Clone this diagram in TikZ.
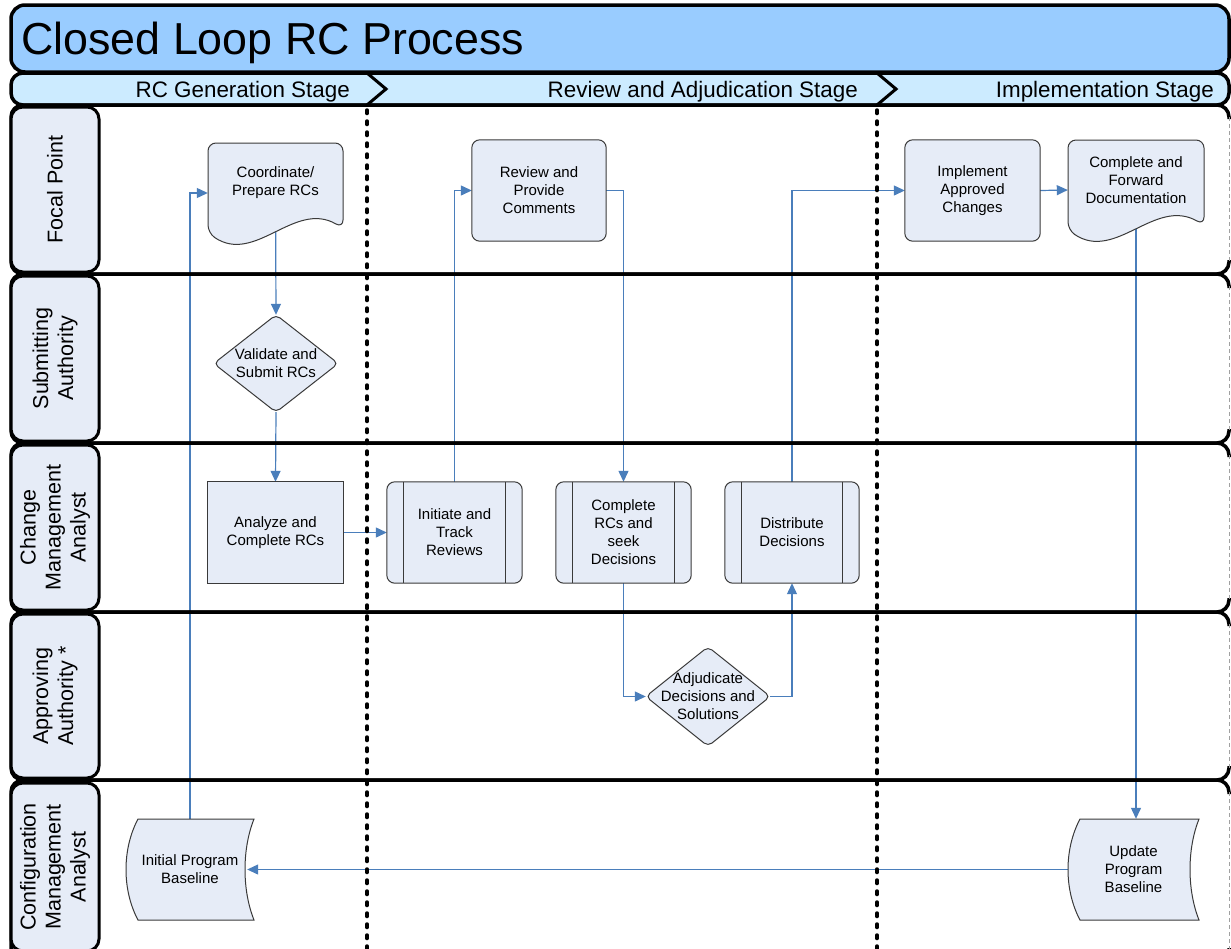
\documentclass[tikz,border=0pt]{standalone}
\usepackage{fontspec}
\setmainfont{Liberation Sans}
\usetikzlibrary{arrows.meta}

\definecolor{titlefill}{HTML}{99CCFF}
\definecolor{stagefill}{HTML}{CCEBFF}
\definecolor{boxfill}{HTML}{E6ECF7}
\definecolor{boxline}{HTML}{3A3A3A}
\definecolor{linkblue}{HTML}{4A7EBB}
\definecolor{edgegrey}{HTML}{A0A0A0}

\pgfdeclarelayer{bg}
\pgfdeclarelayer{links}
\pgfdeclarelayer{frame}
\pgfdeclarelayer{shapes}
\pgfsetlayers{bg,links,frame,shapes,main}

\tikzset{
  frameline/.style={line width=3.5pt, draw=black},
  shapeline/.style={draw=boxline, fill=boxfill, line width=1pt},
  boxtext/.style={font=\fontsize{15}{18}\selectfont, align=center, inner sep=0pt},
  link/.style={draw=linkblue, line width=1.2pt, -{Triangle[length=11pt,width=10pt]}},
  lanelab/.style={draw=black, fill=boxfill, line width=3pt, rounded corners=12pt,
    rotate=90, font=\fontsize{21.5}{25}\selectfont, align=center, inner sep=0pt,
    minimum height=88pt},
  stagetext/.style={font=\fontsize{22.4}{26}\selectfont, anchor=base east, inner sep=0pt},
  divider/.style={line width=3.5pt, dash pattern=on 3.5pt off 7.5pt, line cap=round},
}

% name, x1, y1, x2, y2, text  (y grows downward)
\newcommand\RectBox[6]{%
  \node[boxtext, minimum width={#4-#2}, minimum height={#5-#3}] (#1) at ({(#2+#4)/2},{(#3+#5)/2}) {#6};
  \begin{pgfonlayer}{shapes}
    \path[shapeline] (#1.north west) rectangle (#1.south east);
  \end{pgfonlayer}}
\newcommand\RoundBox[6]{%
  \node[boxtext, minimum width={#4-#2}, minimum height={#5-#3}] (#1) at ({(#2+#4)/2},{(#3+#5)/2}) {#6};
  \begin{pgfonlayer}{shapes}
    \path[shapeline, rounded corners=8pt] (#1.north west) rectangle (#1.south east);
  \end{pgfonlayer}}
\newcommand\PreBox[6]{%
  \node[boxtext, minimum width={#4-#2}, minimum height={#5-#3}] (#1) at ({(#2+#4)/2},{(#3+#5)/2}) {#6};
  \begin{pgfonlayer}{shapes}
    \path[shapeline, rounded corners=8pt] (#1.north west) rectangle (#1.south east);
    \draw[boxline, line width=1pt]
      ([xshift=17pt]#1.north west) -- ([xshift=17pt]#1.south west)
      ([xshift=-17pt]#1.north east) -- ([xshift=-17pt]#1.south east);
  \end{pgfonlayer}}
\newcommand\DiaBox[6]{%
  \node[boxtext, minimum width={#4-#2}, minimum height={#5-#3}] (#1) at ({(#2+#4)/2},{(#3+#5)/2}) {#6};
  \begin{pgfonlayer}{shapes}
    \path[shapeline, rounded corners=5pt] (#1.north) -- (#1.east) -- (#1.south) -- (#1.west) -- cycle;
  \end{pgfonlayer}}
\newcommand\DocBox[6]{%
  \node[inner sep=0pt, minimum width={#4-#2}, minimum height={#5-#3}] (#1) at ({(#2+#4)/2},{(#3+#5)/2}) {};
  \node[boxtext] (#1-text) at ([yshift=10pt]#1.center) {#6};
  \begin{pgfonlayer}{shapes}
    \path[shapeline, rounded corners=8pt] (#4,{#5-15})
      .. controls ({#2+0.64*(#4-#2)},{#5-43}) and ({#2+0.35*(#4-#2)},{#5+22}) .. (#2,{#5-10})
      -- (#2,#3) -- (#4,#3) -- cycle;
  \end{pgfonlayer}}
\newcommand\StoreBox[6]{%
  \node[boxtext, minimum width={#4-#2}, minimum height={#5-#3}] (#1) at ({(#2+#4)/2},{(#3+#5)/2}) {#6};
  \begin{pgfonlayer}{shapes}
    \path[shapeline] ({#2+12},#3) -- (#4,#3)
      .. controls ({#4-12},{#3+30}) and ({#4-12},{#5-30}) .. (#4,#5)
      -- ({#2+12},#5)
      .. controls ({#2-4},{#5-30}) and ({#2-4},{#3+30}) .. cycle;
  \end{pgfonlayer}}
% one swimlane: top, bottom
\newcommand\Lane[2]{%
  \draw[frameline, rounded corners=12pt] (1229,{#1+14}) |- (11,#1) |- (1229,#2) -- (1229,{#2-14});
  \draw[edgegrey, line width=1pt, dash pattern=on 4pt off 3pt] (1229,{#1+12}) -- (1229,{#2-12});}

\begin{document}
\begin{tikzpicture}[x=1pt, y=-1pt]
\useasboundingbox (0,0) rectangle (1231,948);
\begin{pgfonlayer}{bg}
  \fill[white] (0,0) rectangle (1231,948);
\end{pgfonlayer}

% ---- frame: title, stage bar, lanes, stage dividers
\begin{pgfonlayer}{frame}
  \path[frameline, fill=titlefill, rounded corners=14pt] (11,5) rectangle (1229,72);
  \path[frameline, fill=stagefill, rounded corners=12pt] (11,73) rectangle (1229,105);
  \draw[frameline, line width=3pt, line join=miter] (367,73) -- (386,89) -- (367,105);
  \draw[frameline, line width=3pt, line join=miter] (877,73) -- (896,89) -- (877,105);
  \Lane{105}{274}
  \Lane{274}{443}
  \Lane{443}{612}
  \Lane{612}{780}
  \Lane{780}{962}
  \draw[divider] (367,110) -- (367,950);
  \draw[divider] (877,110) -- (877,950);
\end{pgfonlayer}

\node[font=\fontsize{44.8}{50}\selectfont, anchor=base west, inner sep=0pt] (title) at (21,54) {Closed Loop RC Process};
\node[stagetext] (stage1) at (350,97) {RC Generation Stage};
\node[stagetext] (stage2) at (858,97) {Review and Adjudication Stage};
\node[stagetext] (stage3) at (1214,97) {Implementation Stage};

% ---- lane labels
\node[lanelab, minimum width=165pt] (lane1) at (55,189.5) {Focal Point};
\node[lanelab, minimum width=165pt] (lane2) at (55,358.5) {Submitting\\Authority};
\node[lanelab, minimum width=165pt] (lane3) at (55,527.5) {Change\\Management\\Analyst};
\node[lanelab, minimum width=164pt] (lane4) at (55,696) {Approving\\Authority *};
\node[lanelab, minimum width=168pt] (lane5) at (55,867) {Configuration\\Management\\Analyst};

% ---- process steps
\DocBox{coord}{208}{143}{343}{243}{Coordinate/\\Prepare RCs}
\RoundBox{review}{472}{140}{606}{241}{Review and\\Provide\\Comments}
\RoundBox{implement}{905}{140}{1040}{241}{Implement\\Approved\\Changes}
\DocBox{forward}{1068}{140}{1204}{240}{Complete and\\Forward\\Documentation}
\DiaBox{validate}{214}{315}{338}{412}{Validate and\\Submit RCs}
\RectBox{analyze}{208}{482}{343}{583}{Analyze and\\Complete RCs}
\PreBox{initiate}{387}{482}{522}{583}{Initiate and\\Track\\Reviews}
\PreBox{complete}{556}{482}{691}{583}{Complete\\RCs and\\seek\\Decisions}
\PreBox{distribute}{725}{482}{859}{583}{Distribute\\Decisions}
\DiaBox{adjudicate}{646}{647}{770}{746}{Adjudicate\\Decisions and\\Solutions}
\StoreBox{initial}{126}{819}{254}{920}{Initial Program\\Baseline}
\StoreBox{update}{1068}{819}{1199}{920}{Update\\Program\\Baseline}

% ---- connectors
\begin{pgfonlayer}{links}
  \draw[link] (initial.north) |- (coord.west);
  \draw[link] (coord.center) -- (validate.north);
  \draw[link] (validate.south) -- (analyze.north);
  \draw[link] (analyze.east) -- (initiate.west);
  \draw[link] (initiate.north) |- (review.west);
  \draw[link] (review.east) -| (complete.north);
  \draw[link] (complete.south) |- (adjudicate.west);
  \draw[link] (adjudicate.east) -| (distribute.south);
  \draw[link] (distribute.north) |- (implement.west);
  \draw[link] (implement.east) -- (forward.west);
  \draw[link] (forward.center) -- (forward.center |- update.north);
  \draw[link] (update.west) -- ([xshift=-7pt]initial.east);
\end{pgfonlayer}
\end{tikzpicture}
\end{document}
